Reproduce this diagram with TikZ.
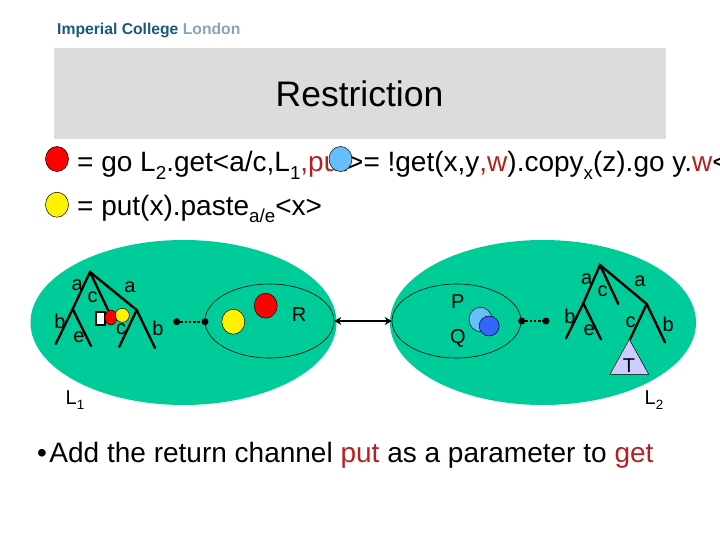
\documentclass[tikz,border=0pt]{standalone}
\usepackage{fontspec}
\setmainfont{Liberation Sans}
\usetikzlibrary{shapes.geometric, arrows.meta, positioning}
\definecolor{TitleGrey}{RGB}{220, 220, 220}
\definecolor{LocGreen}{RGB}{0, 204, 153}
\definecolor{ChanRed}{RGB}{178, 34, 34}
\definecolor{SkyBlue}{RGB}{102, 191, 250}
\definecolor{DeepBlue}{RGB}{51, 102, 255}
\definecolor{LogoDark}{RGB}{26, 88, 124}
\definecolor{LogoLight}{RGB}{134, 163, 190}
\definecolor{TriLilac}{RGB}{204, 204, 255}
\newcommand{\lowtxt}[1]{\raisebox{-.27em}{\scalebox{.67}{#1}}}
\newcommand{\chan}[1]{\textcolor{ChanRed}{#1}}

\begin{document}
\begin{tikzpicture}[
        x=1pt, y=-1pt,
        line/.style={anchor=base west, inner sep=0pt, font=\fontsize{28}{28}\selectfont},
        lbl/.style={inner sep=0pt, font=\fontsize{20}{20}\selectfont},
        loc/.style={ellipse, fill=LocGreen, minimum width=306pt, minimum height=165pt, inner sep=0pt},
        restr/.style={ellipse, draw=black, line width=0.6pt, minimum width=129pt, minimum height=74pt, inner sep=0pt},
        agent/.style={ellipse, draw=black, line width=0.5pt, minimum width=23pt, minimum height=25pt, inner sep=0pt},
        port/.style={circle, fill=black, minimum size=7pt, inner sep=0pt},
        branch/.style={line width=2.4pt, line cap=round},
        link/.style={line width=2.4pt, dash pattern=on 2.6pt off 1.6pt}
    ]
        \useasboundingbox (0,0) rectangle (720,540);

        % Header
        \node[anchor=base west, inner sep=0pt, font=\fontsize{15.7}{15.7}\selectfont\bfseries] (logo) at (57,35) {\textcolor{LogoDark}{Imperial College} \textcolor{LogoLight}{London}};
        \node[rectangle, fill=TitleGrey, minimum width=612pt, minimum height=91pt, inner sep=0pt] (titlebar) at (360,93.5) {};
        \node[inner sep=0pt, font=\fontsize{35.5}{35.5}\selectfont] (title) at (359.5,94) {Restriction};

        % Definitions
        \node[line] (defgo) at (77,172) {= go L\lowtxt{2}.get<a/c,L\lowtxt{1}\chan{,put}>= !get(x,y\chan{,w}).copy\lowtxt{x}(z).go y.\chan{w}<};
        \node[line] (defput) at (77,215) {= put(x).paste\lowtxt{a/e}<x>};
        \node[agent, fill=red] (keyred) at (57,159) {};
        \node[agent, fill=yellow] (keyyellow) at (57,204.7) {};
        \node[agent, fill=SkyBlue] (keyblue) at (340.5,159) {};

        % Locations
        \node[loc] (locA) at (183.5,322.5) {};
        \node[loc] (locB) at (543,322.5) {};
        \node[restr] (restrR) at (269.5,321) {};
        \node[restr] (restrP) at (456.5,321) {};

        % Tree of L1
        \coordinate (atop) at (90,272);
        \coordinate (aleft) at (72.7,309);
        \coordinate (ab) at (55.7,344);
        \coordinate (ae) at (91,346);
        \coordinate (ac) at (108,310);
        \coordinate (aright) at (136.7,310);
        \coordinate (acc) at (119.3,346.7);
        \coordinate (abb) at (155,348);
        \draw[branch] (ab) -- (aleft) -- (atop) -- (aright) -- (acc);
        \draw[branch] (aleft) -- (ae);
        \draw[branch] (atop) -- (ac);
        \draw[branch] (aright) -- (abb);
        \node[lbl] (la1) at (77.3,285) {a};
        \node[lbl] (lc1) at (92.7,297) {c};
        \node[lbl] (la2) at (130,287) {a};
        \node[lbl] (lb1) at (60,321.7) {b};
        \node[lbl] (le1) at (79,337) {e};
        \node[lbl] (lc2) at (121,329) {c};
        \node[lbl] (lb2) at (158,328) {b};
        \node[rectangle, draw=black, fill=white, line width=2.4pt, minimum width=9pt, minimum height=13pt, inner sep=0pt] (hole) at (100.5,318.5) {};
        \node[ellipse, draw=black, fill=red, line width=0.5pt, minimum width=12pt, minimum height=15pt, inner sep=0pt] (minired) at (111,317.5) {};
        \node[circle, draw=black, fill=yellow, line width=0.5pt, minimum size=14pt, inner sep=0pt] (miniyellow) at (122.3,315.3) {};

        % Tree of L2
        \coordinate (btop) at (600,265);
        \coordinate (bleft) at (583.3,303.3);
        \coordinate (bb) at (566,338.3);
        \coordinate (be) at (601,339.3);
        \coordinate (bc) at (618.3,304);
        \coordinate (bright) at (646.7,304);
        \coordinate (bcc) at (630,339.3);
        \coordinate (bbb) at (665,342.3);
        \draw[branch] (bb) -- (bleft) -- (btop) -- (bright) -- (bcc);
        \draw[branch] (bleft) -- (be);
        \draw[branch] (btop) -- (bc);
        \draw[branch] (bright) -- (bbb);
        \node[lbl] (ra1) at (586.7,279.3) {a};
        \node[lbl] (rc1) at (602.7,291.7) {c};
        \node[lbl] (ra2) at (640,281) {a};
        \node[lbl] (rb1) at (570,316.7) {b};
        \node[lbl] (re1) at (589.3,330) {e};
        \node[lbl] (rc2) at (630.7,322.7) {c};
        \node[lbl] (rb2) at (668.3,324) {b};
        \coordinate (tritop) at (629.3,339.3);
        \coordinate (trileft) at (610,374.3);
        \coordinate (triright) at (648.7,374.3);
        \draw[fill=TriLilac, line width=0.5pt] (tritop) -- (trileft) -- (triright) -- cycle;
        \node[lbl] (tlabel) at (629,365.7) {T};

        % Agents in the restrictions
        \node[agent, fill=yellow] (agY) at (233.3,321.7) {};
        \node[agent, fill=red] (agR) at (265.7,305.7) {};
        \node[lbl] (lblR) at (299,315) {R};
        \node[lbl] (lblP) at (457.7,301.7) {P};
        \node[lbl] (lblQ) at (458,338) {Q};
        \node[agent, fill=SkyBlue, minimum height=24.5pt] (agP) at (480.5,319.5) {};
        \node[circle, draw=black, fill=DeepBlue, line width=0.5pt, minimum size=20pt, inner sep=0pt] (agQ) at (489.2,326) {};

        % Connections
        \node[port] (portA) at (176.7,321.7) {};
        \node[port] (portR) at (205,321.7) {};
        \node[port] (portP) at (521.7,321) {};
        \node[port] (portB) at (546,321) {};
        \draw[link] (portA) -- (portR);
        \draw[link] (portP) -- (portB);
        \draw[{Stealth[length=7pt,width=8pt]}-{Stealth[length=7pt,width=8pt]}, line width=1.6pt] (restrR.east) -- (restrP.west);

        % Location names
        \node[lbl] (nameA) at (75,400) {L\lowtxt{1}};
        \node[lbl] (nameB) at (654,400) {L\lowtxt{2}};

        % Bottom line
        \node[line] (note) at (37,462) {\textbullet\hspace{2.5pt}Add the return channel \chan{put} as a parameter to \chan{get}};
    \end{tikzpicture}
\end{document}
